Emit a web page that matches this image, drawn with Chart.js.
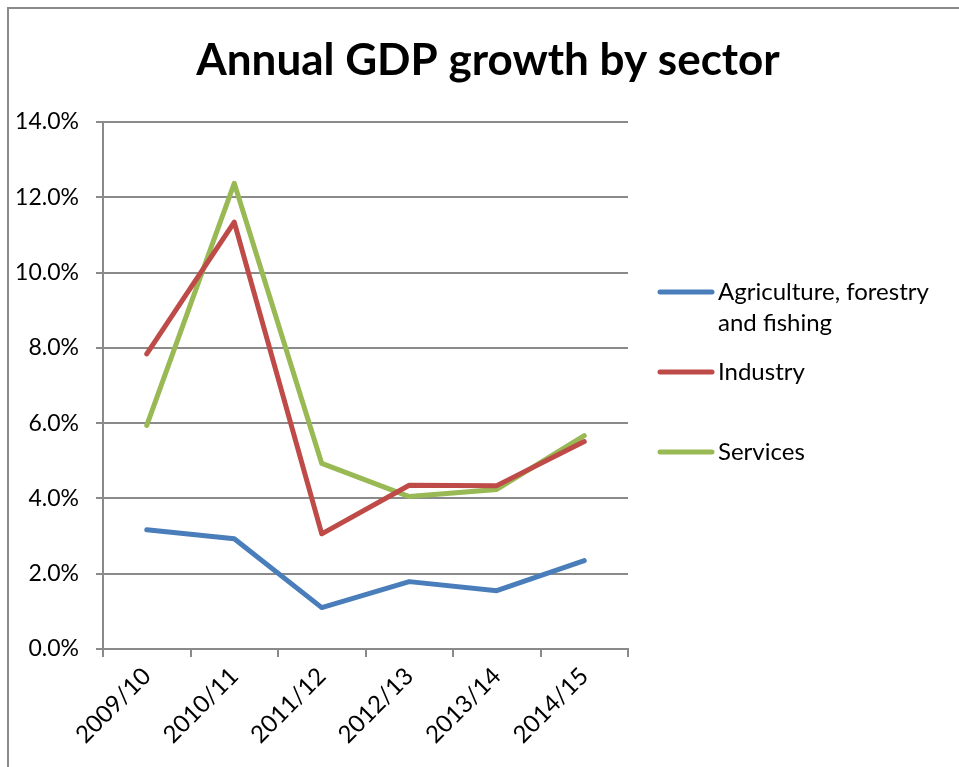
<!DOCTYPE html>
<html>
<head>
<meta charset="utf-8">
<script src="https://cdn.jsdelivr.net/npm/chart.js@4"></script>
<style>
  html, body { margin: 0; padding: 0; background: #fff; overflow: hidden; }
  #wrap { position: relative; width: 959px; height: 767px; }
  #frame {
    position: absolute; left: 7px; top: 7px; width: 1000px; height: 800px;
    border-left: 2px solid #8a8a8a; border-top: 2px solid #8a8a8a;
  }
  canvas { position: absolute; left: 0; top: 0; }
</style>
</head>
<body>
<div id="wrap">
  <div id="frame"></div>
  <canvas id="gdp" width="959" height="767"></canvas>
</div>
<script>
const years = ['2009/10', '2010/11', '2011/12', '2012/13', '2013/14', '2014/15'];
const agriculture = [3.17, 2.93, 1.10, 1.79, 1.55, 2.35];
const industry = [7.84, 11.34, 3.06, 4.35, 4.34, 5.51];
const services = [5.94, 12.37, 4.93, 4.05, 4.24, 5.67];
const yTicks = [0, 2, 4, 6, 8, 10, 12, 14];

const FONT = 'Lato, "Open Sans", sans-serif';
const GRID = '#8a8a8a';

// title and the right-hand legend (wrapped text like the office chart)
const decor = {
    id: 'decor',
    afterDraw(chart) {
        const ctx = chart.ctx;
        const area = chart.chartArea;
        ctx.save();
        ctx.fillStyle = '#000';
        ctx.font = 'bold 44px ' + FONT;
        ctx.textAlign = 'center';
        ctx.textBaseline = 'alphabetic';
        ctx.fillText('Annual GDP growth by sector', 488, 75);

        ctx.font = '24px ' + FONT;
        ctx.textAlign = 'left';
        ctx.textBaseline = 'middle';
        const x0 = area.right + 32;
        const tx = x0 + 58;
        const maxW = 959 - tx - 6;
        let y = area.top + 170;
        chart.data.datasets.forEach(ds => {
            ctx.strokeStyle = ds.borderColor;
            ctx.lineWidth = 5;
            ctx.lineCap = 'round';
            ctx.beginPath();
            ctx.moveTo(x0, y);
            ctx.lineTo(x0 + 52, y);
            ctx.stroke();

            const words = ds.label.split(' ');
            const lines = [];
            let line = '';
            words.forEach(w => {
                const t = line ? line + ' ' + w : w;
                if (line && ctx.measureText(t).width > maxW) {
                    lines.push(line);
                    line = w;
                } else {
                    line = t;
                }
            });
            lines.push(line);
            lines.forEach((l, i) => ctx.fillText(l, tx, y + i * 31));
            y += 80;
        });
        ctx.restore();
    }
};

function series(label, data, color) {
    return {
        label: label,
        data: data,
        borderColor: color,
        backgroundColor: color,
        borderWidth: 5,
        borderCapStyle: 'round',
        borderJoinStyle: 'round',
        pointRadius: 0,
        pointHoverRadius: 0,
        tension: 0,
        fill: false
    };
}

new Chart(document.getElementById('gdp'), {
    type: 'line',
    data: {
        labels: years,
        datasets: [
            series('Agriculture, forestry and fishing', agriculture, '#4a7ebb'),
            series('Industry', industry, '#be4b48'),
            series('Services', services, '#98b954')
        ]
    },
    options: {
        responsive: false,
        animation: false,
        layout: { padding: { top: 122, right: 331, bottom: 0, left: 0 } },
        plugins: {
            legend: { display: false },
            title: { display: false },
            tooltip: { enabled: false }
        },
        scales: {
            x: {
                offset: true,
                grid: {
                    offset: true,
                    drawOnChartArea: false,
                    drawTicks: true,
                    tickLength: 8,
                    color: GRID,
                    lineWidth: 2
                },
                border: { color: GRID, width: 2 },
                ticks: {
                    color: '#000',
                    font: { family: FONT, size: 24 },
                    minRotation: 45,
                    maxRotation: 45,
                    padding: 5
                },
                afterFit(scale) { scale.height = 118; }
            },
            y: {
                min: 0,
                max: 14,
                afterBuildTicks(scale) {
                    scale.ticks = yTicks.map(v => ({ value: v }));
                },
                grid: {
                    color: GRID,
                    lineWidth: 2,
                    tickLength: 7
                },
                border: { color: GRID, width: 2 },
                ticks: {
                    color: '#000',
                    font: { family: FONT, size: 23 },
                    padding: 17,
                    callback: v => v.toFixed(1) + '%'
                },
                afterFit(scale) { scale.width = 103; }
            }
        }
    },
    plugins: [decor]
});
</script>
</body>
</html>
